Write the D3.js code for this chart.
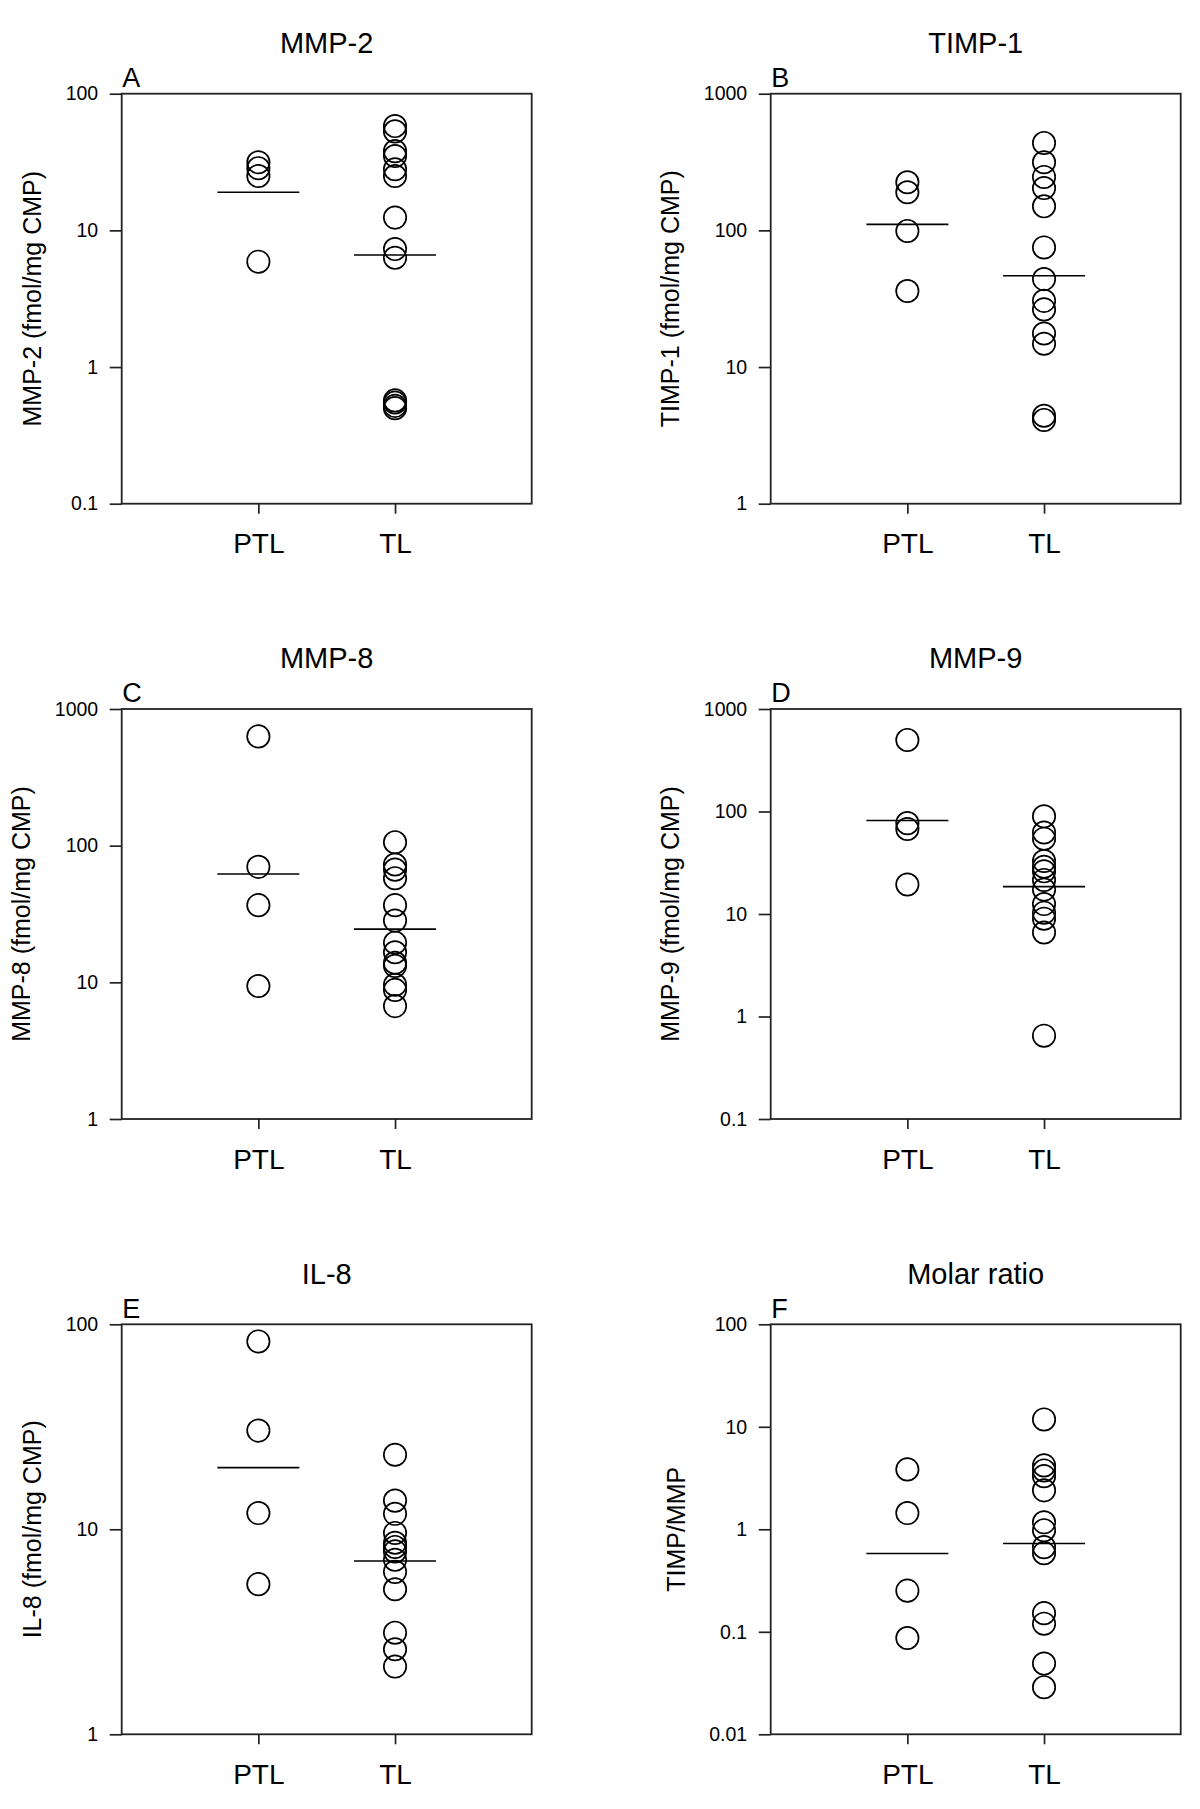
<!DOCTYPE html>
<html>
<head>
<meta charset="utf-8">
<script src="https://cdn.jsdelivr.net/npm/d3@7"></script>
<style>
  html, body { margin: 0; padding: 0; background: #fff; }
  svg text { font-family: "Liberation Sans", Arial, Helvetica, sans-serif; fill: #000; }
</style>
</head>
<body>
<svg id="chart" width="1200" height="1809"></svg>
<script>
// ---------- data ----------
const categories = ["PTL", "TL"];
const panelLetters = ["A", "B", "C", "D", "E", "F"];
const panelTitles = ["MMP-2", "TIMP-1", "MMP-8", "MMP-9", "IL-8", "Molar ratio"];
const yAxisTitles = ["MMP-2 (fmol/mg CMP)", "TIMP-1 (fmol/mg CMP)", "MMP-8 (fmol/mg CMP)",
                     "MMP-9 (fmol/mg CMP)", "IL-8 (fmol/mg CMP)", "TIMP/MMP"];

// y tick values and labels per panel
const tickValuesA = [0.1, 1, 10, 100];          const tickLabelsA = ["0.1", "1", "10", "100"];
const tickValuesB = [1, 10, 100, 1000];         const tickLabelsB = ["1", "10", "100", "1000"];
const tickValuesC = [1, 10, 100, 1000];         const tickLabelsC = ["1", "10", "100", "1000"];
const tickValuesD = [0.1, 1, 10, 100, 1000];    const tickLabelsD = ["0.1", "1", "10", "100", "1000"];
const tickValuesE = [1, 10, 100];               const tickLabelsE = ["1", "10", "100"];
const tickValuesF = [0.01, 0.1, 1, 10, 100];    const tickLabelsF = ["0.01", "0.1", "1", "10", "100"];

// MMP-2
const mmp2PTL = [31.5, 28.5, 25, 5.9];
const mmp2TL  = [58, 53, 38, 35, 28, 25, 12.4, 7.3, 6.3, 0.57, 0.55, 0.52, 0.5];
// TIMP-1
const timp1PTL = [225, 190, 99, 36];
const timp1TL  = [436, 315, 246, 204, 150, 75, 44, 30.5, 26.4, 17.6, 14.8, 4.4, 4.1];
// MMP-8
const mmp8PTL = [630, 70, 36.7, 9.4];
const mmp8TL  = [106, 72.8, 66.8, 57.8, 36.7, 28.3, 19.5, 16.6, 13.9, 13.2, 9.6, 8.8, 6.7];
// MMP-9
const mmp9PTL = [499, 77, 67.5, 19.4];
const mmp9TL  = [89.8, 62.4, 54.3, 32.9, 28.9, 26.1, 21.5, 17.3, 12.5, 10.3, 9.0, 6.6, 0.65];
// IL-8
const il8PTL = [82.5, 30.3, 12, 5.4];
const il8TL  = [23.1, 13.8, 11.9, 9.6, 8.6, 8.2, 7.8, 7.1, 6.2, 5.1, 3.13, 2.6, 2.14];
// Molar ratio (TIMP/MMP)
const ratioPTL = [3.84, 1.44, 0.252, 0.087];
const ratioTL  = [11.8, 4.2, 3.75, 3.3, 2.4, 1.17, 0.98, 0.67, 0.585, 0.152, 0.12, 0.049, 0.0288];

// group geometric means (horizontal lines), [PTL, TL]
const meansA = [19, 6.6];
const meansB = [110.6, 46.6];
const meansC = [62, 24.5];
const meansD = [81.8, 18.5];
const meansE = [20, 7.0];
const meansF = [0.58, 0.726];

const panels = [
  { domain: [0.1, 100],   ticks: tickValuesA, labels: tickLabelsA, groups: [mmp2PTL, mmp2TL],   means: meansA },
  { domain: [1, 1000],    ticks: tickValuesB, labels: tickLabelsB, groups: [timp1PTL, timp1TL], means: meansB },
  { domain: [1, 1000],    ticks: tickValuesC, labels: tickLabelsC, groups: [mmp8PTL, mmp8TL],   means: meansC },
  { domain: [0.1, 1000],  ticks: tickValuesD, labels: tickLabelsD, groups: [mmp9PTL, mmp9TL],   means: meansD },
  { domain: [1, 100],     ticks: tickValuesE, labels: tickLabelsE, groups: [il8PTL, il8TL],     means: meansE },
  { domain: [0.01, 100],  ticks: tickValuesF, labels: tickLabelsF, groups: [ratioPTL, ratioTL], means: meansF }
];

// ---------- layout ----------
const colX = [121.7, 770.7];
const rowY = [93.7, 709, 1324.3];
const W = 410, H = 410;
const svg = d3.select("#chart");

panels.forEach((p, i) => {
  const left = colX[i % 2], top = rowY[Math.floor(i / 2)];
  const g = svg.append("g").attr("transform", `translate(${left},${top})`);

  const x = d3.scalePoint().domain(categories).range([0, W]).padding(1);
  const y = d3.scaleLog().domain(p.domain).range([H, 0]);

  // title
  g.append("text").attr("x", W / 2).attr("y", -40.7)
    .attr("text-anchor", "middle").attr("font-size", 29).text(panelTitles[i]);
  // panel letter
  g.append("text").attr("x", 0.6).attr("y", -6.7)
    .attr("font-size", 27).text(panelLetters[i]);

  // y axis
  const yAxis = g.append("g").call(
    d3.axisLeft(y).tickValues(p.ticks).tickFormat((d, k) => p.labels[k])
      .tickSize(12).tickSizeOuter(0).tickPadding(11.5));
  yAxis.select(".domain").remove();
  yAxis.selectAll("line").attr("stroke", "#222").attr("stroke-width", 1.7);
  yAxis.selectAll("text").attr("font-size", 19.5)
    .style("font-family", '"Liberation Sans", Arial, sans-serif').attr("fill", "#000");

  // x axis
  const xAxis = g.append("g").attr("transform", `translate(0,${H})`).call(
    d3.axisBottom(x).tickSize(10).tickSizeOuter(0));
  xAxis.select(".domain").remove();
  xAxis.selectAll("line").attr("stroke", "#222").attr("stroke-width", 1.7);
  xAxis.selectAll("text").attr("font-size", 28).attr("y", 49.5).attr("dy", null)
    .style("font-family", '"Liberation Sans", Arial, sans-serif').attr("fill", "#000");

  // frame
  g.append("rect").attr("x", 0).attr("y", 0).attr("width", W).attr("height", H)
    .attr("fill", "none").attr("stroke", "#222").attr("stroke-width", 1.8);

  // y axis title, placed left of the tick labels
  let minX = 0;
  yAxis.selectAll("text").each(function () {
    const bb = this.getBBox();
    const tx = -12 - 11.5 - bb.width;
    if (tx < minX) minX = tx;
  });
  g.append("text")
    .attr("transform", `translate(${minX - 24.5},${H / 2}) rotate(-90)`)
    .attr("text-anchor", "middle").attr("font-size", 25).text(yAxisTitles[i]);

  // points
  categories.forEach((c, k) => {
    g.append("g").selectAll("circle").data(p.groups[k]).join("circle")
      .attr("cx", x(c)).attr("cy", d => y(d)).attr("r", 11.2)
      .attr("fill", "none").attr("stroke", "#000").attr("stroke-width", 1.7);
    const half = x.step() * 0.3;
    g.append("line")
      .attr("x1", x(c) - half).attr("x2", x(c) + half)
      .attr("y1", y(p.means[k])).attr("y2", y(p.means[k]))
      .attr("stroke", "#000").attr("stroke-width", 1.6);
  });
});
</script>
</body>
</html>
